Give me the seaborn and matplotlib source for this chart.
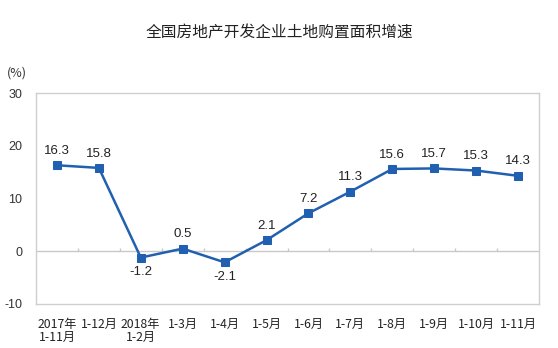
import matplotlib
matplotlib.use("Agg")
import matplotlib.pyplot as plt
import seaborn as sns
import pandas as pd

periods = ["2017年\n1-11月", "1-12月", "2018年\n1-2月", "1-3月", "1-4月", "1-5月",
           "1-6月", "1-7月", "1-8月", "1-9月", "1-10月", "1-11月"]
growth = [16.3, 15.8, -1.2, 0.5, -2.1, 2.1, 7.2, 11.3, 15.6, 15.7, 15.3, 14.3]
y_ticks = [-10, 0, 10, 20, 30]

sns.set_theme(style="white")
plt.rcParams["font.family"] = ["Noto Sans CJK SC", "DejaVu Sans"]

df = pd.DataFrame({"idx": range(len(periods)), "period": periods, "growth": growth})

fig = plt.figure(figsize=(5.58, 3.48), dpi=100)
ax = fig.add_axes([36 / 558, 1 - 304 / 348, 503 / 558, 211 / 348])

line_color = "#2160b0"
sns.lineplot(data=df, x="idx", y="growth", ax=ax, color=line_color, linewidth=1.8,
             marker="s", markersize=5.5, markeredgecolor=line_color,
             markerfacecolor=line_color)

ax.set_xlim(-0.5, len(periods) - 0.5)
ax.set_ylim(-10, 30)
ax.set_yticks(y_ticks)
ax.set_yticklabels([str(t) for t in y_ticks], fontsize=9, color="#333333",
                   family="Liberation Sans")
ax.set_xticks(range(len(periods)))
ax.set_xticklabels(periods, fontsize=8.8, color="#222222", linespacing=1.05,
                   ha="center")
ax.tick_params(axis="x", length=0, pad=10)
ax.tick_params(axis="y", length=0, pad=10)
ax.set_xlabel("")
ax.set_ylabel("")

for side in ax.spines.values():
    side.set_color("#cfcfcf")
    side.set_linewidth(1)

# zero line with small category separators
ax.axhline(0, color="#c8c8c8", linewidth=1, zorder=1)
ax.vlines([i + 0.5 for i in range(len(periods) - 1)], 0, 0.55, color="#c8c8c8",
          linewidth=1, zorder=1)

for i, v in enumerate(growth):
    if v < 0:
        ax.annotate(f"{v:.1f}", (i, v), xytext=(0, -6), textcoords="offset points",
                    ha="center", va="top", fontsize=9.5, color="#222222",
                    family="Liberation Sans")
    else:
        ax.annotate(f"{v:.1f}", (i, v), xytext=(0, 6), textcoords="offset points",
                    ha="center", va="bottom", fontsize=9.5, color="#222222",
                    family="Liberation Sans")

fig.text(279 / 558, 1 - 33 / 348, "全国房地产开发企业土地购置面积增速", ha="center",
         va="center", fontsize=11.3, color="#222222")
fig.text(17 / 558, 1 - 73 / 348, "(%)", ha="center", va="center", fontsize=9,
         color="#333333")

fig.savefig("out.png", dpi=100)
